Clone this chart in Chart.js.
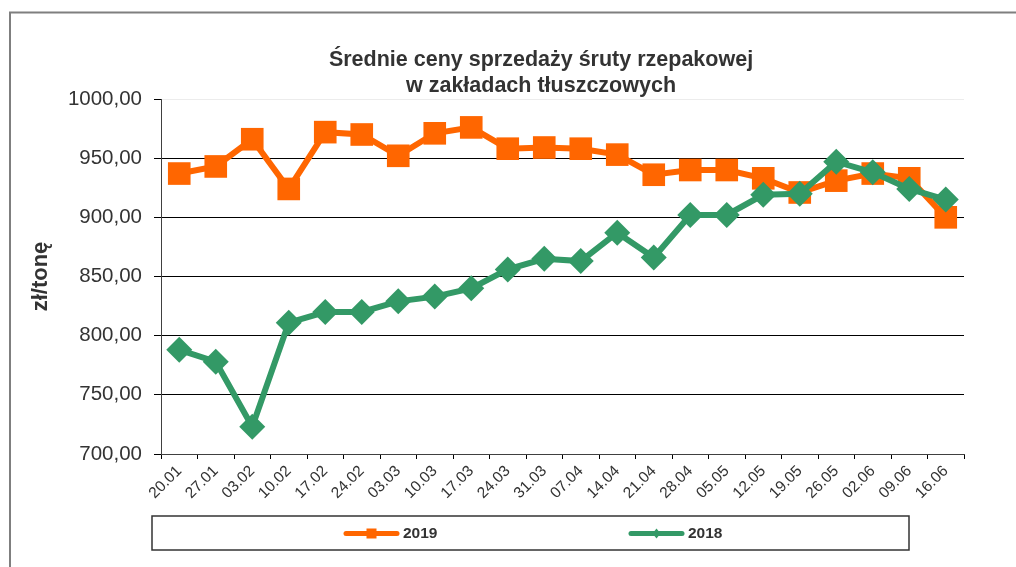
<!DOCTYPE html>
<html lang="pl">
<head>
<meta charset="utf-8">
<title>Średnie ceny sprzedaży śruty rzepakowej</title>
<script src="https://cdn.jsdelivr.net/npm/chart.js@4/dist/chart.umd.min.js"></script>
<style>
    html, body { margin: 0; padding: 0; background: #fff; }
    .canvas-wrap { position: relative; width: 1016px; height: 567px; }
</style>
</head>
<body>
<div class="canvas-wrap"><canvas id="priceChart"></canvas></div>
<script>
const weeks = ['20.01', '27.01', '03.02', '10.02', '17.02', '24.02', '03.03', '10.03', '17.03', '24.03', '31.03',
    '07.04', '14.04', '21.04', '28.04', '05.05', '12.05', '19.05', '26.05', '02.06', '09.06', '16.06'];
const prices2019 = [937, 943, 966, 924, 972, 970, 952, 971, 976, 958, 959,
    958, 953, 936, 940, 940, 933, 921, 931, 937, 933, 900];
const prices2018 = [788, 778, 723, 811, 820, 820, 829, 833, 840, 856, 865,
    863, 887, 866, 902, 902, 919, 920, 947, 938, 924, 915];
const titleLines = ['Średnie ceny sprzedaży śruty rzepakowej', 'w zakładach tłuszczowych'];
const yTitle = 'zł/tonę';

(function () {
    const ORANGE = '#ff6600';
    const GREEN = '#339966';
    const TEXT = '#333333';
    const FONT = "'Liberation Sans', Arial, sans-serif";

    // frame, title and legend box like the Excel export
    const decorPlugin = {
        id: 'decor',
        beforeDraw(chart) {
            const ctx = chart.ctx;
            ctx.save();
            ctx.strokeStyle = '#7f7f7f';
            ctx.lineWidth = 2;
            ctx.beginPath();
            ctx.moveTo(10, 567);
            ctx.lineTo(10, 12.5);
            ctx.lineTo(1016, 12.5);
            ctx.stroke();

            ctx.fillStyle = TEXT;
            ctx.font = 'bold 21.5px ' + FONT;
            ctx.textAlign = 'center';
            ctx.textBaseline = 'alphabetic';
            titleLines.forEach((line, i) => ctx.fillText(line, 541, 66 + i * 25.5));
            ctx.restore();
        },
        afterDraw(chart) {
            const ctx = chart.ctx;
            ctx.save();
            ctx.strokeStyle = '#333';
            ctx.lineWidth = 1.5;
            ctx.strokeRect(152, 516, 757, 34);

            const slots = [344, 629];
            chart.data.datasets.forEach((ds, i) => {
                const x = slots[i];
                const y = 533.5;
                ctx.strokeStyle = ds.borderColor;
                ctx.lineWidth = 5;
                ctx.lineCap = 'round';
                ctx.beginPath();
                ctx.moveTo(x + 2, y);
                ctx.lineTo(x + 53, y);
                ctx.stroke();
                ctx.fillStyle = ds.borderColor;
                const cx = x + 27.5;
                if (ds.pointStyle === 'rect') {
                    ctx.fillRect(cx - 5, y - 5, 10, 10);
                } else {
                    ctx.beginPath();
                    ctx.moveTo(cx, y - 5);
                    ctx.lineTo(cx + 4, y);
                    ctx.lineTo(cx, y + 5);
                    ctx.lineTo(cx - 4, y);
                    ctx.closePath();
                    ctx.fill();
                }
                ctx.fillStyle = TEXT;
                ctx.font = 'bold 15.5px ' + FONT;
                ctx.textAlign = 'left';
                ctx.textBaseline = 'middle';
                ctx.fillText(ds.label, x + 59, y);
            });
            ctx.restore();
        }
    };

    const canvas = document.getElementById('priceChart');

    new Chart(canvas, {
        type: 'line',
        data: {
            labels: weeks,
            datasets: [{
                label: '2019',
                data: prices2019,
                borderColor: ORANGE,
                backgroundColor: ORANGE,
                borderWidth: 6,
                pointStyle: 'rect',
                pointRadius: 16,
                pointHoverRadius: 16,
                pointBorderWidth: 0,
                order: 1
            }, {
                label: '2018',
                data: prices2018,
                borderColor: GREEN,
                backgroundColor: GREEN,
                borderWidth: 6,
                pointStyle: 'rectRot',
                pointRadius: 13,
                pointHoverRadius: 13,
                pointBorderWidth: 0,
                order: 0
            }]
        },
        options: {
            responsive: true,
            maintainAspectRatio: false,
            animation: false,
            layout: { padding: { left: 20, right: 52, top: 99, bottom: 0 } },
            plugins: {
                legend: { display: false },
                title: { display: false },
                tooltip: { enabled: false }
            },
            scales: {
                y: {
                    min: 700,
                    max: 1000,
                    afterFit: scale => { scale.width = 141; },
                    border: { display: true, color: '#404040', width: 1 },
                    grid: {
                        color: c => (c.tick && c.tick.value === 1000) ? '#ececec' : '#000',
                        tickColor: '#000',
                        tickLength: 7,
                        lineWidth: 1
                    },
                    ticks: {
                        stepSize: 50,
                        padding: 12,
                        color: TEXT,
                        font: { family: FONT, size: 20.5 },
                        callback: v => v.toFixed(2).replace('.', ',')
                    },
                    title: {
                        display: true,
                        text: yTitle,
                        color: TEXT,
                        font: { family: FONT, size: 22, weight: 'bold' },
                        padding: { top: 8, bottom: 0 }
                    }
                },
                x: {
                    offset: true,
                    afterFit: scale => { scale.height = 113; },
                    border: { display: true, color: '#404040', width: 1 },
                    grid: {
                        offset: true,
                        drawOnChartArea: false,
                        tickColor: '#000',
                        tickLength: 5
                    },
                    ticks: {
                        autoSkip: false,
                        minRotation: 45,
                        maxRotation: 45,
                        padding: 3,
                        color: TEXT,
                        font: { family: FONT, size: 15.5 }
                    }
                }
            }
        },
        plugins: [decorPlugin]
    });
})();
</script>
</body>
</html>
